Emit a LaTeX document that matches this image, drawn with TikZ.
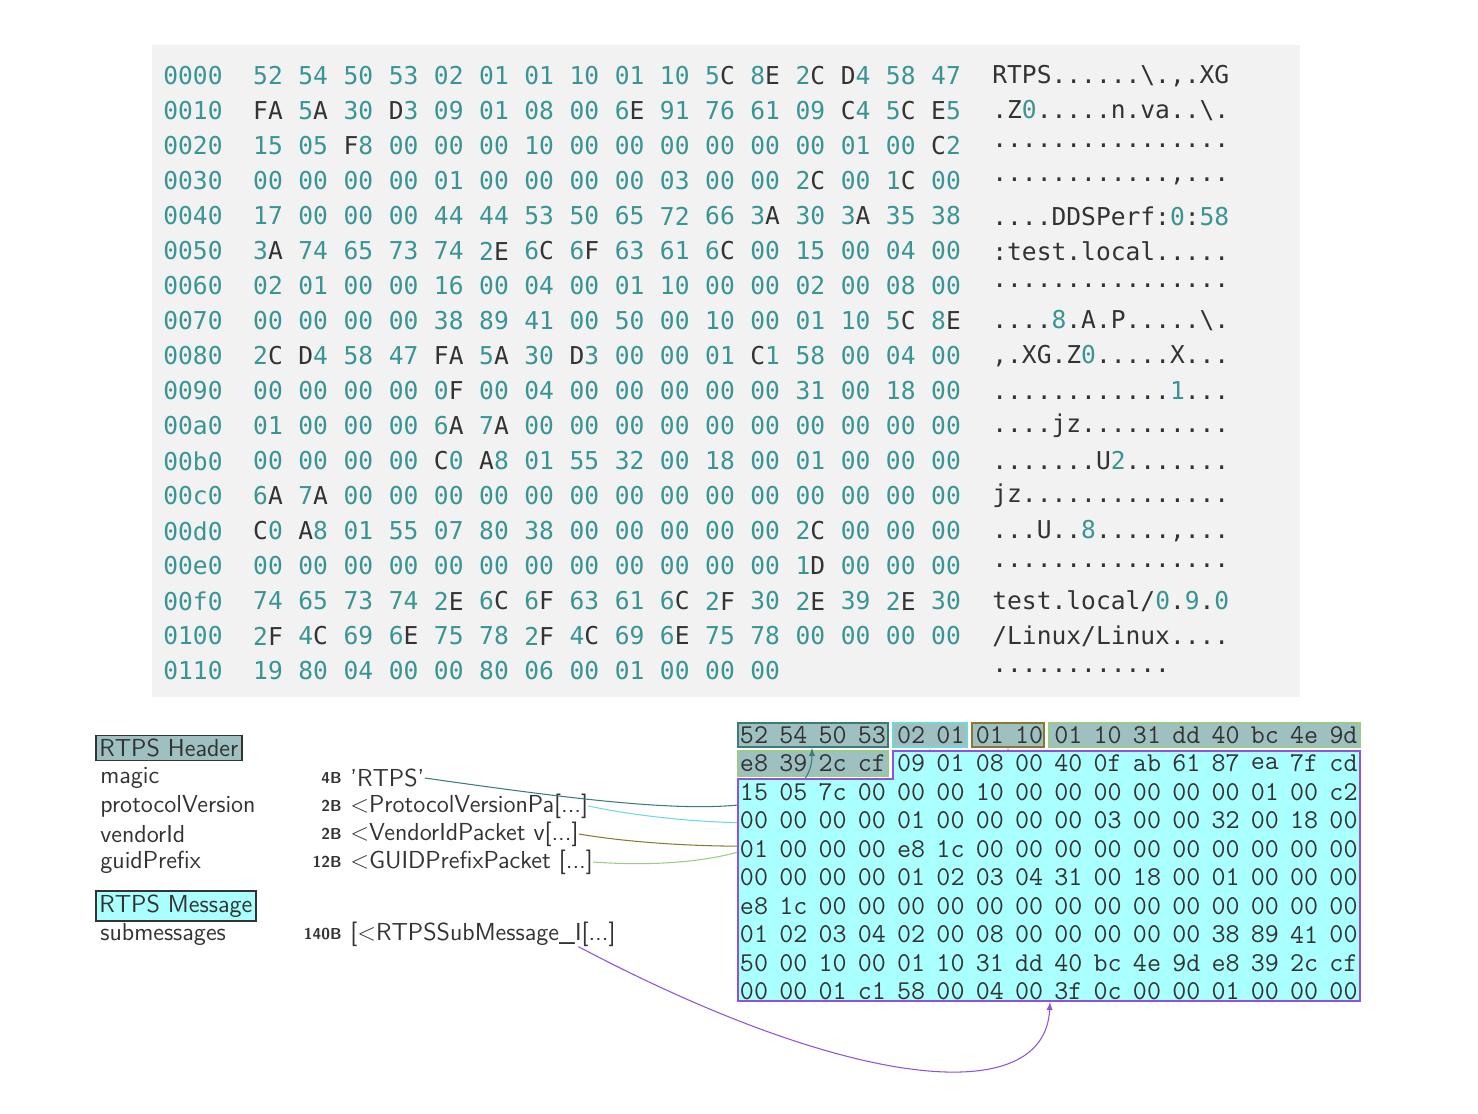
\documentclass[tikz,border=0pt]{standalone}
\usepackage{fontspec}
\newfontfamily\dumpfont{DejaVu Sans Mono}
\usetikzlibrary{positioning}
\definecolor{dteal}{HTML}{3A9494}
\definecolor{dtext}{HTML}{333333}
\definecolor{hdrfill}{HTML}{9EC0C0}
\definecolor{magicc}{HTML}{3D7A7A}
\definecolor{protoc}{HTML}{6FD8DC}
\definecolor{vendc}{HTML}{8A7A30}
\definecolor{guidc}{HTML}{98CC88}
\definecolor{msgfill}{HTML}{AAFFFF}
\definecolor{msgc}{HTML}{9050E0}
% digits teal, everything else dark; | stands for a backslash
\def\colch#1{\ifx\relax#1\else
  \ifx|#1\textbackslash\else
  \ifnum`#1>47 \ifnum`#1<58 \textcolor{dteal}{#1}\else#1\fi\else#1\fi\fi
  \expandafter\colch\fi}
\newcommand{\colstr}[1]{\expandafter\colch#1\relax}
\tikzset{
  dump/.style={inner sep=0pt, font=\dumpfont\fontsize{14}{14}\selectfont, text=dtext},
  bytes/.style={inner sep=0pt, font=\ttfamily\fontsize{15.5}{15.5}\selectfont, text=dtext},
  field/.style={inner sep=0pt, anchor=west, font=\sffamily\fontsize{14}{14}\selectfont, text=dtext},
  size/.style={inner sep=0pt, anchor=east, font=\sffamily\bfseries\fontsize{9}{9}\selectfont, text=dtext},
  title/.style={field, draw=dtext, line width=0.9pt, inner sep=2pt},
  link/.style={line width=0.6pt, -latex},
}
\begin{document}
\begin{tikzpicture}[x=0.02cm, y=-0.02cm]
\useasboundingbox (0,0) rectangle (1478,1114);
\fill[black!5] (152,45) rectangle (1300,697);
% hex dump
\foreach \off/\bl/\asc [count=\r from 0] in {
 0000/{52,54,50,53,02,01,01,10,01,10,5C,8E,2C,D4,58,47}/{RTPS......|.,.XG},
 0010/{FA,5A,30,D3,09,01,08,00,6E,91,76,61,09,C4,5C,E5}/{.Z0.....n.va..|.},
 0020/{15,05,F8,00,00,00,10,00,00,00,00,00,00,01,00,C2}/{................},
 0030/{00,00,00,00,01,00,00,00,00,03,00,00,2C,00,1C,00}/{............,...},
 0040/{17,00,00,00,44,44,53,50,65,72,66,3A,30,3A,35,38}/{....DDSPerf:0:58},
 0050/{3A,74,65,73,74,2E,6C,6F,63,61,6C,00,15,00,04,00}/{:test.local.....},
 0060/{02,01,00,00,16,00,04,00,01,10,00,00,02,00,08,00}/{................},
 0070/{00,00,00,00,38,89,41,00,50,00,10,00,01,10,5C,8E}/{....8.A.P.....|.},
 0080/{2C,D4,58,47,FA,5A,30,D3,00,00,01,C1,58,00,04,00}/{,.XG.Z0.....X...},
 0090/{00,00,00,00,0F,00,04,00,00,00,00,00,31,00,18,00}/{............1...},
 00a0/{01,00,00,00,6A,7A,00,00,00,00,00,00,00,00,00,00}/{....jz..........},
 00b0/{00,00,00,00,C0,A8,01,55,32,00,18,00,01,00,00,00}/{.......U2.......},
 00c0/{6A,7A,00,00,00,00,00,00,00,00,00,00,00,00,00,00}/{jz..............},
 00d0/{C0,A8,01,55,07,80,38,00,00,00,00,00,2C,00,00,00}/{...U..8.....,...},
 00e0/{00,00,00,00,00,00,00,00,00,00,00,00,1D,00,00,00}/{................},
 00f0/{74,65,73,74,2E,6C,6F,63,61,6C,2F,30,2E,39,2E,30}/{test.local/0.9.0},
 0100/{2F,4C,69,6E,75,78,2F,4C,69,6E,75,78,00,00,00,00}/{/Linux/Linux....},
 0110/{19,80,04,00,00,80,06,00,01,00,00,00}/{............}}{
  \node[dump, anchor=west, text=dteal] (off\r) at (163,76+35*\r) {\off};
  \foreach \b [count=\i from 0] in \bl
    \node[dump] at (268+45.2*\i,76+35*\r) {\colstr{\b}};
  \node[dump, anchor=west] (asc\r) at (992,76+35*\r) {\colstr{\asc}};
}
% legend
\node[title, fill=hdrfill] (hdr) at (95,748) {RTPS Header};
\node[field] (fMagic) at (100,778) {magic};
\node[field] (fProto) at (100,806) {protocolVersion};
\node[field] (fVend) at (100,834) {vendorId};
\node[field] (fGuid) at (100,862) {guidPrefix};
\node[title, fill=msgfill] (msg) at (95,906) {RTPS Message};
\node[field] (fSub) at (100,934) {submessages};
\node[size] at (342,778) {4B};
\node[size] at (342,806) {2B};
\node[size] at (342,834) {2B};
\node[size] at (342,862) {12B};
\node[size] at (342,934) {140B};
\node[field] (vMagic) at (350,778) {'RTPS'};
\node[field] (vProto) at (350,806) {<ProtocolVersionPa[...]};
\node[field] (vVend) at (350,834) {<VendorIdPacket v[...]};
\node[field] (vGuid) at (350,862) {<GUIDPrefixPacket [...]};
\node[field] (vSub) at (350,934) {[<RTPSSubMessage\_I[...]};
% header byte boxes
\draw[fill=hdrfill, draw=magicc, line width=1pt] (738,723) rectangle (888,747);
\draw[fill=hdrfill, draw=protoc, line width=1pt] (893,723) rectangle (967,747);
\draw[fill=hdrfill, draw=vendc, line width=1pt] (972,723) rectangle (1044,747);
\draw[fill=hdrfill, draw=guidc, line width=1pt] (1049,723) rectangle (1360,747);
\draw[fill=hdrfill, draw=guidc, line width=1pt] (738,751) rectangle (888,776);
\coordinate (tMagic) at (812,748);
\coordinate (tProto) at (930,748);
\coordinate (tVend) at (1008,748);
\coordinate (tGuid) at (812,777);
\coordinate (tSub) at (1050,1002);
% connectors
\draw[link, magicc] (vMagic.east) .. controls (650,810) and (812,830) .. (tMagic);
\draw[link, protoc] (vProto.east) .. controls (700,830) and (930,840) .. (tProto);
\draw[link, vendc] (vVend.east) .. controls (700,855) and (1008,860) .. (tVend);
\draw[link, guidc] (vGuid.east) .. controls (700,870) and (812,850) .. (tGuid);
\draw[link, msgc] ([xshift=-0.75cm]vSub.south east) .. controls (850,1090) and (1045,1110) .. (tSub);
% message bytes
\draw[fill=msgfill, draw=msgc, line width=1.2pt] (893,751) -- (1360,751) -- (1360,1001)
  -- (738,1001) -- (738,779) -- (893,779) -- cycle;
\foreach \bl [count=\r from 0] in {
 {52,54,50,53,02,01,01,10,01,10,31,dd,40,bc,4e,9d},
 {e8,39,2c,cf,09,01,08,00,40,0f,ab,61,87,ea,7f,cd},
 {15,05,7c,00,00,00,10,00,00,00,00,00,00,01,00,c2},
 {00,00,00,00,01,00,00,00,00,03,00,00,32,00,18,00},
 {01,00,00,00,e8,1c,00,00,00,00,00,00,00,00,00,00},
 {00,00,00,00,01,02,03,04,31,00,18,00,01,00,00,00},
 {e8,1c,00,00,00,00,00,00,00,00,00,00,00,00,00,00},
 {01,02,03,04,02,00,08,00,00,00,00,00,38,89,41,00},
 {50,00,10,00,01,10,31,dd,40,bc,4e,9d,e8,39,2c,cf},
 {00,00,01,c1,58,00,04,00,3f,0c,00,00,01,00,00,00}}
  \foreach \b [count=\i from 0] in \bl
    \node[bytes] (b\r-\i) at (754+39.3*\i,735+28.5*\r) {\b};
\end{tikzpicture}
\end{document}
